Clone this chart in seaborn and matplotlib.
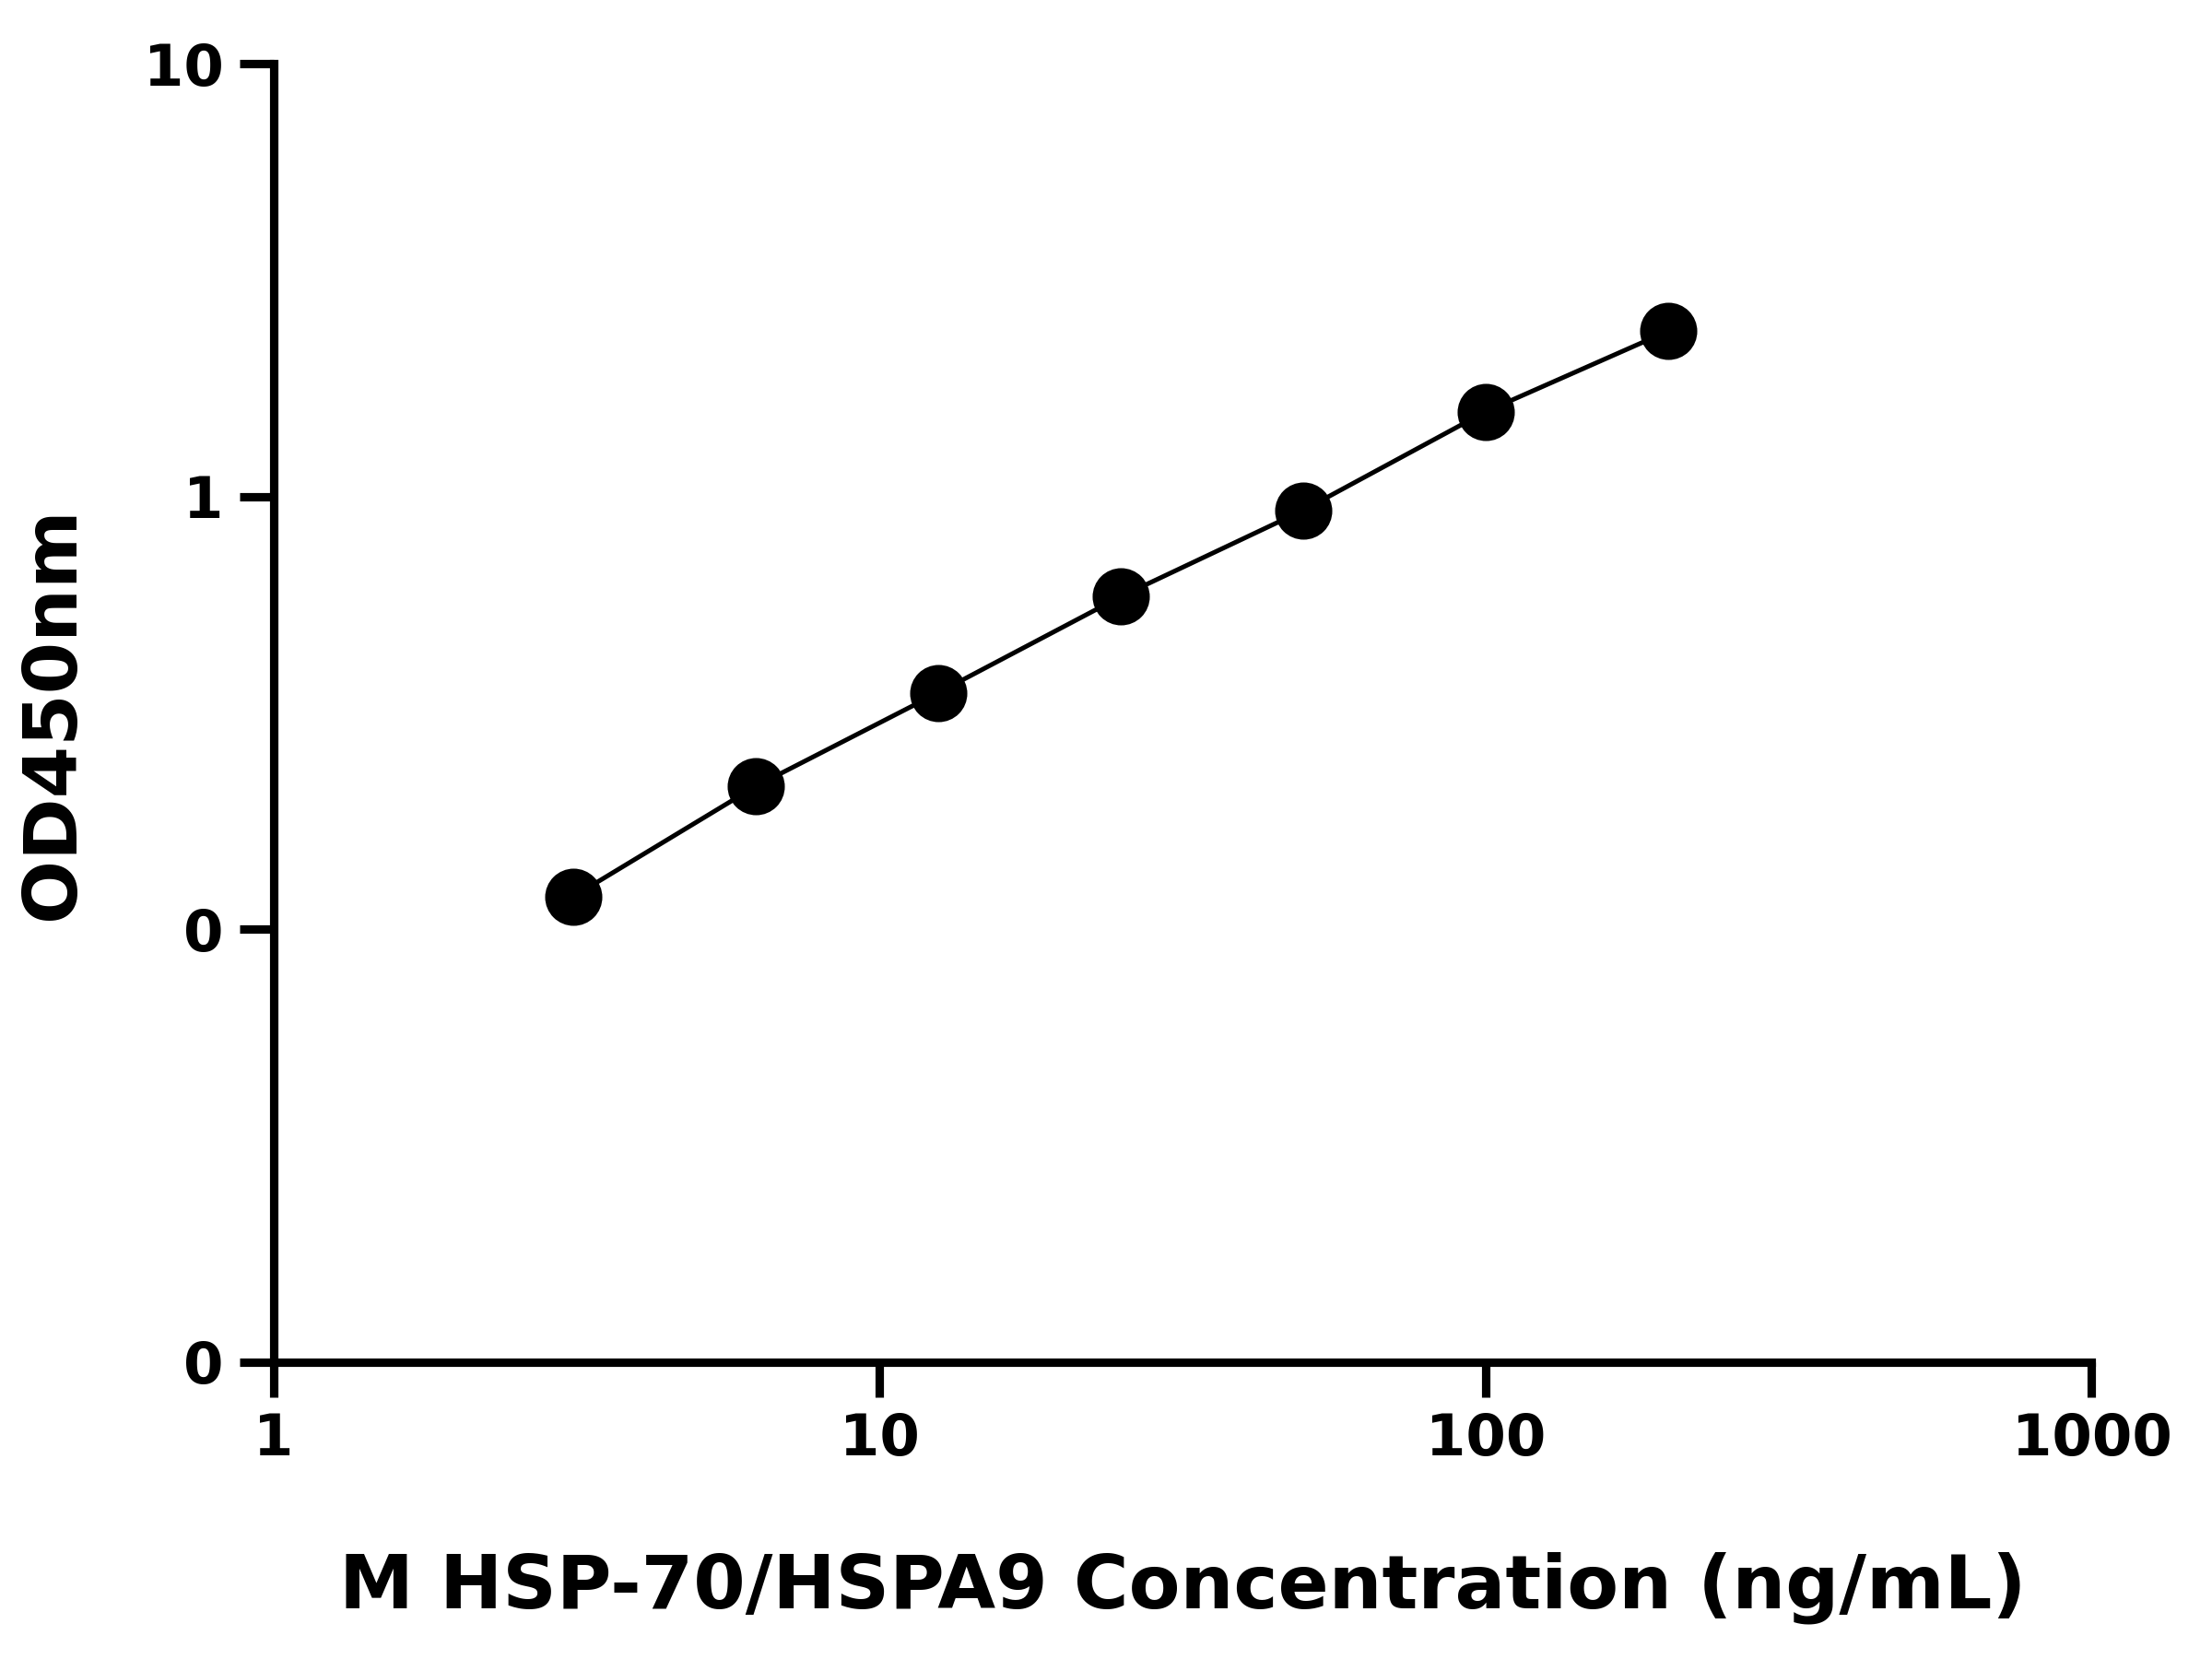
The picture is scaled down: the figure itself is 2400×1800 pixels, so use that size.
import matplotlib
matplotlib.use("Agg")
import matplotlib.pyplot as plt
import seaborn as sns
import pandas as pd
from matplotlib.ticker import FixedLocator, FixedFormatter, NullLocator

# Standard curve values
concentration = [3.125, 6.25, 12.5, 25, 50, 100, 200]
od450 = [0.119, 0.214, 0.352, 0.587, 0.929, 1.57, 2.41]

x_ticks = [1, 10, 100, 1000]
x_labels = ["1", "10", "100", "1000"]
y_ticks = [0.01, 0.1, 1, 10]
y_labels = ["0", "0", "1", "10"]

df = pd.DataFrame({"conc": concentration, "od": od450})

sns.set_style("ticks")
plt.rcParams["font.family"] = ["DejaVu Sans"]
plt.rcParams["font.weight"] = "bold"
plt.rcParams["text.color"] = "black"
plt.rcParams["axes.labelcolor"] = "black"
plt.rcParams["xtick.color"] = "black"
plt.rcParams["ytick.color"] = "black"
plt.rcParams["axes.edgecolor"] = "black"

fig = plt.figure(figsize=(8, 6), dpi=300)
ax = fig.add_axes([0.1236, 0.179, 0.822, 0.7826])

sns.lineplot(data=df, x="conc", y="od", color="black", linewidth=1.2, ax=ax)
sns.scatterplot(data=df, x="conc", y="od", color="black", s=190, edgecolor="black", zorder=3, ax=ax)

ax.set_xscale("log")
ax.set_yscale("log")
ax.set_xlim(1, 1000)
ax.set_ylim(0.01, 10)
ax.xaxis.set_major_locator(FixedLocator(x_ticks))
ax.xaxis.set_major_formatter(FixedFormatter(x_labels))
ax.xaxis.set_minor_locator(NullLocator())
ax.yaxis.set_major_locator(FixedLocator(y_ticks))
ax.yaxis.set_major_formatter(FixedFormatter(y_labels))
ax.yaxis.set_minor_locator(NullLocator())

for side in ["top", "right"]:
    ax.spines[side].set_visible(False)
for side in ["left", "bottom"]:
    ax.spines[side].set_linewidth(2.2)

ax.tick_params(axis="both", width=2.2, length=9, labelsize=15, pad=4, colors="black")
for lab in ax.get_xticklabels() + ax.get_yticklabels():
    lab.set_fontweight("bold")

ax.set_xlabel("M HSP-70/HSPA9 Concentration (ng/mL)", fontsize=19.5, fontweight="bold", labelpad=22)
ax.set_ylabel("OD450nm", fontsize=19.5, fontweight="bold", labelpad=14)

fig.savefig("out.png", dpi=300)
